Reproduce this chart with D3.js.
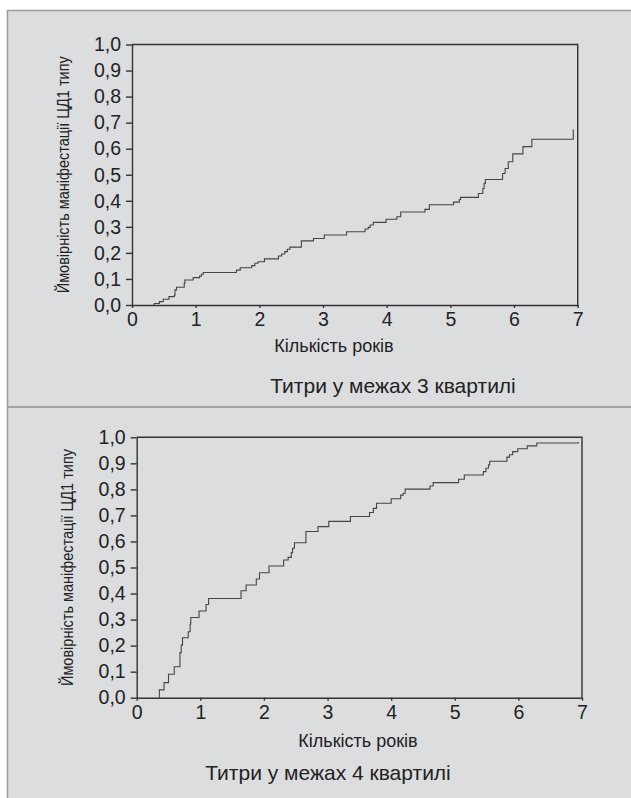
<!DOCTYPE html>
<html>
<head>
<meta charset="utf-8">
<title>Ймовірність маніфестації ЦД1 типу</title>
<script src="https://cdn.jsdelivr.net/npm/d3@7"></script>
<style>
  body { margin: 0; background: #fff; }
  svg { display: block; font-family: "Liberation Sans", Arial, sans-serif; }
  .axis text { fill: #222; font-size: 19.5px; }
  .axis line, .axis path { stroke: #333; stroke-width: 1.4; }
</style>
</head>
<body>
<script>
// step points: year of each jump and probability after it
const q3Years = [0.35, 0.43, 0.49, 0.58, 0.665, 0.675, 0.70, 0.82, 0.83, 0.96, 1.06, 1.09, 1.12,
  1.64, 1.70, 1.88, 1.93, 1.98, 2.08, 2.30, 2.35, 2.40, 2.44, 2.48, 2.66, 2.85, 3.02, 3.37,
  3.66, 3.71, 3.74, 3.79, 3.99, 4.16, 4.22, 4.60, 4.67, 5.05, 5.14, 5.16, 5.44, 5.51, 5.53,
  5.55, 5.82, 5.86, 5.91, 5.98, 6.14, 6.28, 6.93];
const q3Prob = [0.006, 0.013, 0.022, 0.032, 0.038, 0.058, 0.068, 0.083, 0.096, 0.105, 0.111, 0.118, 0.125,
  0.134, 0.143, 0.151, 0.160, 0.166, 0.177, 0.188, 0.196, 0.205, 0.214, 0.222, 0.246, 0.255, 0.269, 0.281,
  0.292, 0.298, 0.307, 0.317, 0.329, 0.339, 0.357, 0.367, 0.385, 0.395, 0.405, 0.413, 0.428, 0.447, 0.467,
  0.482, 0.505, 0.524, 0.550, 0.580, 0.608, 0.636, 0.674];

const q4Years = [0.356, 0.43, 0.50, 0.59, 0.68, 0.70, 0.72, 0.81, 0.84, 0.85, 0.98, 1.09, 1.13,
  1.64, 1.72, 1.88, 1.93, 2.08, 2.31, 2.38, 2.43, 2.45, 2.48, 2.66, 2.85, 3.02, 3.36, 3.66,
  3.72, 3.77, 4.00, 4.15, 4.19, 4.22, 4.61, 4.66, 5.06, 5.15, 5.45, 5.49, 5.53, 5.55, 5.82,
  5.86, 5.91, 5.99, 6.14, 6.29, 6.94];
const q4Prob = [0.030, 0.058, 0.090, 0.119, 0.173, 0.202, 0.230, 0.253, 0.282, 0.308, 0.333, 0.358, 0.381,
  0.411, 0.433, 0.456, 0.480, 0.506, 0.529, 0.539, 0.557, 0.574, 0.595, 0.638, 0.657, 0.677, 0.696, 0.711,
  0.727, 0.747, 0.764, 0.778, 0.785, 0.801, 0.813, 0.826, 0.839, 0.855, 0.868, 0.881, 0.894, 0.908, 0.924,
  0.933, 0.945, 0.956, 0.967, 0.978, 0.982];

const xTicks = [0, 1, 2, 3, 4, 5, 6, 7];
const yTicks = [0, 0.1, 0.2, 0.3, 0.4, 0.5, 0.6, 0.7, 0.8, 0.9, 1.0];
const yTitle = 'Ймовірність маніфестації ЦД1 типу';
const xTitle = 'Кількість років';
const panelTitles = ['Титри у межах 3 квартилі', 'Титри у межах 4 квартилі'];

const svg = d3.select('body').append('svg')
    .attr('width', 631)
    .attr('height', 798);

// grey panels
svg.append('rect').attr('x', 7).attr('y', 10).attr('width', 624).attr('height', 788).attr('fill', '#dcdddf');
svg.append('line').attr('x1', 7).attr('x2', 631).attr('y1', 10.5).attr('y2', 10.5)
    .attr('stroke', '#9c9c9c').attr('stroke-width', 1.5);
svg.append('line').attr('x1', 7.5).attr('x2', 7.5).attr('y1', 10).attr('y2', 798)
    .attr('stroke', '#9c9c9c').attr('stroke-width', 1.5);
svg.append('line').attr('x1', 7).attr('x2', 631).attr('y1', 407).attr('y2', 407)
    .attr('stroke', '#a2a2a2').attr('stroke-width', 2);

function drawPanel(years, prob, box, title) {
  const x = d3.scaleLinear().domain([0, 7]).range([box.left, box.right]);
  const y = d3.scaleLinear().domain([0, 1]).range([box.bottom, box.top]);

  svg.append('g')
      .attr('class', 'axis')
      .attr('transform', 'translate(' + box.left + ',0)')
      .call(d3.axisLeft(y).tickValues(yTicks).tickSize(6).tickPadding(5).tickSizeOuter(0)
        .tickFormat(d => d.toFixed(1).replace('.', ',')));

  svg.append('g')
      .attr('class', 'axis')
      .attr('transform', 'translate(0,' + box.bottom + ')')
      .call(d3.axisBottom(x).tickValues(xTicks).tickSize(3).tickPadding(4).tickSizeOuter(0)
        .tickFormat(d3.format('d')));

  // frame on top and right
  svg.append('path')
      .attr('d', 'M' + x(0) + ',' + y(1) + 'H' + x(7) + 'V' + y(0))
      .attr('fill', 'none')
      .attr('stroke', '#333')
      .attr('stroke-width', 1.4);

  const pts = [[years[0], 0]].concat(years.map((t, i) => [t, prob[i]]));
  const line = d3.line()
      .x(d => x(d[0]))
      .y(d => y(d[1]))
      .curve(d3.curveStepAfter);

  svg.append('path')
      .datum(pts)
      .attr('d', line)
      .attr('fill', 'none')
      .attr('stroke', '#444')
      .attr('stroke-width', 1.1);

  const midY = (y(0) + y(1)) / 2;
  svg.append('text')
      .attr('transform', 'translate(' + box.yTitleX + ',' + midY + ') rotate(-90)')
      .attr('text-anchor', 'middle')
      .attr('textLength', 237)
      .attr('lengthAdjust', 'spacingAndGlyphs')
      .style('font-size', '16px')
      .style('fill', '#222')
      .text(yTitle);

  svg.append('text')
      .attr('x', box.xTitleX)
      .attr('y', box.xTitleY)
      .attr('text-anchor', 'middle')
      .style('font-size', '18px')
      .style('fill', '#222')
      .text(xTitle);

  svg.append('text')
      .attr('x', box.titleX)
      .attr('y', box.titleY)
      .attr('text-anchor', 'middle')
      .style('font-size', '21px')
      .style('fill', '#222')
      .text(title);
}

drawPanel(q3Years, q3Prob,
  { left: 132, right: 577.7, top: 44.5, bottom: 305, yTitleX: 69, xTitleX: 334, xTitleY: 352, titleX: 393, titleY: 393 },
  panelTitles[0]);
drawPanel(q4Years, q4Prob,
  { left: 136.7, right: 582, top: 437.3, bottom: 697.7, yTitleX: 73, xTitleX: 358, xTitleY: 747, titleX: 328, titleY: 780 },
  panelTitles[1]);
</script>
</body>
</html>
